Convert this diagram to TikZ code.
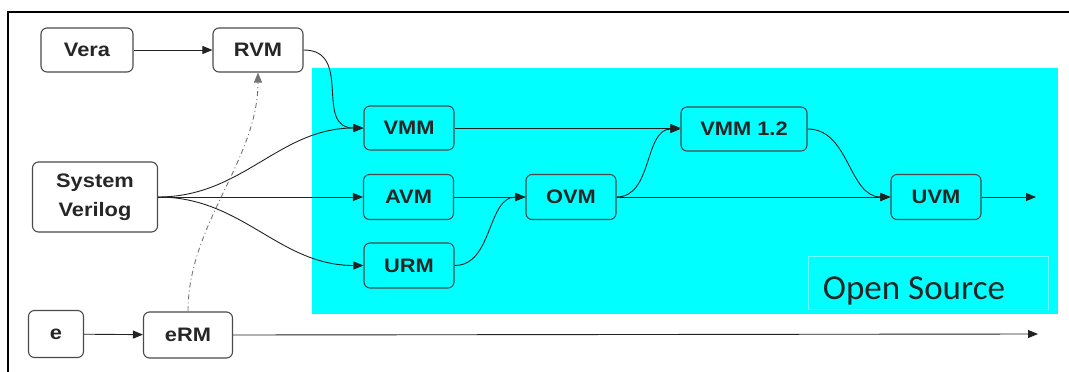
\documentclass[tikz,border=0pt]{standalone}
\usepackage{fontspec}
\newfontfamily\arialfont[FakeStretch=1.12]{Liberation Sans}
\newfontfamily\calibrifont{Carlito}
\usetikzlibrary{arrows.meta}
\definecolor{openbg}{HTML}{00FFFF}
\definecolor{osedge}{HTML}{70FFFF}
\definecolor{boxline}{HTML}{4A4A4A}
\definecolor{wire}{HTML}{222222}
\tikzset{
  blk/.style={draw=boxline, line width=1.1pt, rounded corners=6pt, fill=white,
    font=\arialfont\bfseries\fontsize{19.5}{29}\selectfont, text=black!85,
    inner sep=0pt, align=center},
  openblk/.style={blk, fill=openbg},
  link/.style={draw=wire, line width=0.9pt, -{Triangle[length=10pt,width=8pt]}},
  trace/.style={link, draw=black!55, dash pattern=on 5pt off 3pt on 1pt off 3pt}
}
\begin{document}
\begin{tikzpicture}[x=1pt,y=-1pt]
  \useasboundingbox (0,0) rectangle (1069,372);
  % open-source region
  \fill[openbg] (312,68) rectangle (1058,314);
  \node[draw=osedge, line width=0.5pt, minimum width=240pt, minimum height=53pt,
        inner sep=0pt] (osbox) at (928,283) {};
  \node[font=\calibrifont\fontsize{35}{38}\selectfont, text=black!85] (oslabel) at (914,291) {Open Source};
  % frame
  \draw[line width=1.4pt] (8,372) -- (8,12) -- (1069,12);

  % proprietary methodologies
  \node[blk, minimum width=92pt, minimum height=44pt] (vera) at (87,50) {Vera};
  \node[blk, minimum width=90pt, minimum height=44pt] (rvm) at (258,50) {RVM};
  \node[blk, minimum width=125pt, minimum height=70pt] (sv) at (95,197) {System\\Verilog};
  \node[blk, minimum width=55pt, minimum height=47pt] (e) at (56,334) {e};
  \node[blk, minimum width=89pt, minimum height=46pt] (erm) at (188,335) {eRM};

  % open-source methodologies
  \node[openblk, minimum width=90pt, minimum height=44pt] (vmm) at (409,128) {VMM};
  \node[openblk, minimum width=90pt, minimum height=45pt] (avm) at (408.5,197) {AVM};
  \node[openblk, minimum width=90pt, minimum height=45pt] (urm) at (409,265.5) {URM};
  \node[openblk, minimum width=90pt, minimum height=45pt] (ovm) at (571,197) {OVM};
  \node[openblk, minimum width=126pt, minimum height=44pt] (vmm12) at (744,129) {VMM 1.2};
  \node[openblk, minimum width=90pt, minimum height=45pt] (uvm) at (936,197) {UVM};

  \coordinate (uvmend) at (1036,197);
  \coordinate (ermend) at (1038,334);

  % connectors
  \draw[link] (vera) -- (rvm);
  \draw[link] (rvm.east) to[out=0, in=180, looseness=1.3] (vmm.west);
  \draw[link] (sv.east) to[out=0, in=180] (vmm.west);
  \draw[link] (sv.east) -- (avm.west);
  \draw[link] (sv.east) to[out=0, in=180] (urm.west);
  \draw[link] (vmm.east) -- (vmm12.west |- vmm.east);
  \draw[link] (avm.east) -- (ovm.west);
  \draw[link] (urm.east) to[out=0, in=180] (ovm.west);
  \draw[link] (ovm.east) to[out=0, in=180] (vmm12.west);
  \draw[link] (ovm.east) -- (uvm.west);
  \draw[link] (vmm12.east) to[out=0, in=180] (uvm.west);
  \draw[link] (uvm.east) -- (uvmend);
  \draw[link] (e) -- (erm);
  \draw[link] (erm.east) -- (ermend);
  \draw[trace] (erm.north) to[out=90, in=-90, looseness=0.9] (rvm.south);
\end{tikzpicture}
\end{document}
